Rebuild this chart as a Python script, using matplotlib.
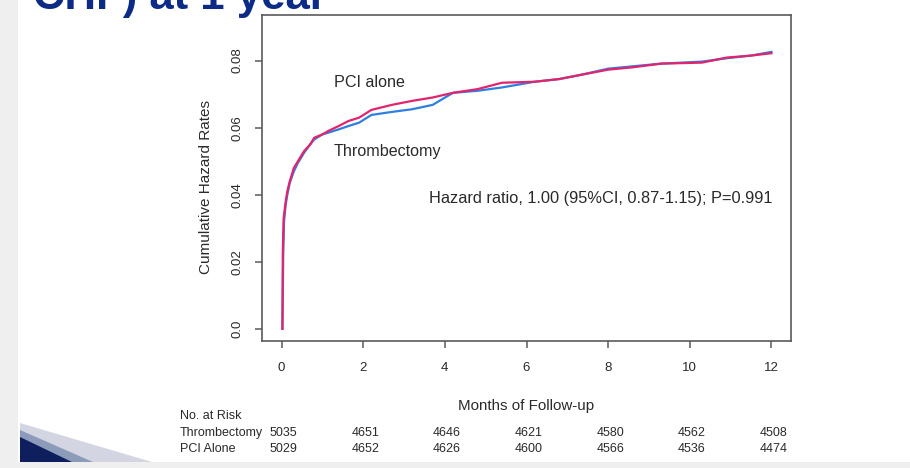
import matplotlib.pyplot as plt
from matplotlib.patches import Polygon, Rectangle

plt.rcParams["font.family"] = ["Liberation Sans", "DejaVu Sans"]

# cumulative hazard curves
months_pci = [0.02, 0.03, 0.05, 0.10, 0.14, 0.20, 0.30, 0.40, 0.55, 0.70, 0.80,
              1.00, 1.14, 1.40, 1.64, 1.90, 2.20, 2.70, 3.20, 3.70, 4.20, 4.80,
              5.40, 6.20, 6.80, 7.35, 8.00, 8.60, 9.30, 10.30, 10.90, 11.50, 12.00]
hazard_pci = [0.0, 0.023, 0.033, 0.038, 0.041, 0.044, 0.048, 0.050, 0.053, 0.055, 0.057,
              0.058, 0.059, 0.0605, 0.062, 0.063, 0.0653, 0.0668, 0.068, 0.069, 0.0704, 0.0715,
              0.0734, 0.0737, 0.0745, 0.0758, 0.0773, 0.078, 0.0791, 0.0794, 0.0809, 0.0815, 0.0822]

months_thr = [0.02, 0.04, 0.06, 0.10, 0.14, 0.20, 0.30, 0.40, 0.55, 0.70, 0.80,
              1.00, 1.14, 1.40, 1.64, 1.90, 2.20, 2.70, 3.20, 3.70, 4.20, 4.80,
              5.40, 6.20, 6.80, 7.35, 8.00, 8.60, 9.30, 10.30, 10.90, 11.50, 12.00]
hazard_thr = [0.0, 0.022, 0.032, 0.037, 0.040, 0.0435, 0.047, 0.0495, 0.0525, 0.055, 0.0565,
              0.058, 0.0585, 0.0595, 0.0605, 0.0615, 0.0638, 0.0647, 0.0655, 0.0668, 0.0704, 0.071,
              0.072, 0.0737, 0.0745, 0.0758, 0.0776, 0.0783, 0.0791, 0.0797, 0.0807, 0.0815, 0.0826]

risk_months = [0, 2, 4, 6, 8, 10, 12]
risk_thr = [5035, 4651, 4646, 4621, 4580, 4562, 4508]
risk_pci = [5029, 4652, 4626, 4600, 4566, 4536, 4474]

x_ticks = [0, 2, 4, 6, 8, 10, 12]
y_ticks = [0.0, 0.02, 0.04, 0.06, 0.08]
y_tick_labels = ["0.0", "0.02", "0.04", "0.06", "0.08"]

txt = "#2a2a2a"
edge = "#5a5a5a"

fig = plt.figure(figsize=(9.1, 4.68), dpi=100)

# slide decoration
fig.patches.append(Rectangle((0, 0), 18 / 910, 1, transform=fig.transFigure,
                             facecolor="#efefef", edgecolor="none", zorder=0))
fig.patches.append(Rectangle((0, 0), 1, 6 / 468, transform=fig.transFigure,
                             facecolor="#efefef", edgecolor="none", zorder=0))
for pts, col in [([(20, 423), (20, 462), (152, 462)], "#d3d6e2"),
                 ([(20, 430), (20, 462), (93, 462)], "#8d9bbb"),
                 ([(20, 437), (20, 462), (72, 462)], "#0f1f5e")]:
    fig.patches.append(Polygon([(x / 910, 1 - y / 468) for x, y in pts], closed=True,
                               transform=fig.transFigure, facecolor=col,
                               edgecolor="none", zorder=1))
fig.text(33 / 910, 1 - 9 / 468, "CHF) at 1 year", fontsize=31.5, fontweight="bold",
         color="#0b2b86", va="baseline", ha="left")

ax = fig.add_axes([262 / 910, 1 - 341 / 468, 529 / 910, 326 / 468])
ax.plot(months_thr, hazard_thr, color="#2f7fe0", lw=1.6, zorder=2)
ax.plot(months_pci, hazard_pci, color="#e2246e", lw=1.6, zorder=3)

ax.set_xlim(-0.48, 12.48)
ax.set_ylim(-0.0036, 0.0936)
ax.set_xticks(x_ticks)
ax.set_xticklabels([str(v) for v in x_ticks])
ax.set_yticks(y_ticks)
ax.set_yticklabels(y_tick_labels, rotation=90, va="center")
ax.tick_params(axis="both", colors=edge, labelcolor=txt, labelsize=9.5,
               length=5, width=1.1)
ax.tick_params(axis="x", pad=10)
ax.tick_params(axis="y", pad=8)
for s in ax.spines.values():
    s.set_color(edge)
    s.set_linewidth(1.2)

ax.set_xlabel("Months of Follow-up", fontsize=10.9, color=txt, labelpad=18)
ax.set_ylabel("Cumulative Hazard Rates", fontsize=11, color=txt)
ax.yaxis.set_label_coords(-0.092, 0.472)

ax.text(1.28, 0.0736, "PCI alone", fontsize=11.6, color=txt, va="center")
ax.text(1.28, 0.0529, "Thrombectomy", fontsize=11.6, color=txt, va="center")
ax.text(3.6, 0.0388, "Hazard ratio, 1.00 (95%CI, 0.87-1.15); P=0.991",
        fontsize=11.8, color=txt, va="center")

# number at risk table below the axis
fig.text(180 / 910, 1 - 416 / 468, "No. at Risk", fontsize=9, color=txt, va="center")
fig.text(180 / 910, 1 - 433 / 468, "Thrombectomy", fontsize=9, color=txt, va="center")
fig.text(180 / 910, 1 - 449 / 468, "PCI Alone", fontsize=9, color=txt, va="center")
for m, a, b in zip(risk_months, risk_thr, risk_pci):
    xf = (ax.transData.transform((m, 0))[0] + 2) / fig.bbox.width
    fig.text(xf, 1 - 433 / 468, str(a), fontsize=9, color=txt, ha="center", va="center")
    fig.text(xf, 1 - 449 / 468, str(b), fontsize=9, color=txt, ha="center", va="center")

fig.savefig("out.png", dpi=100)
